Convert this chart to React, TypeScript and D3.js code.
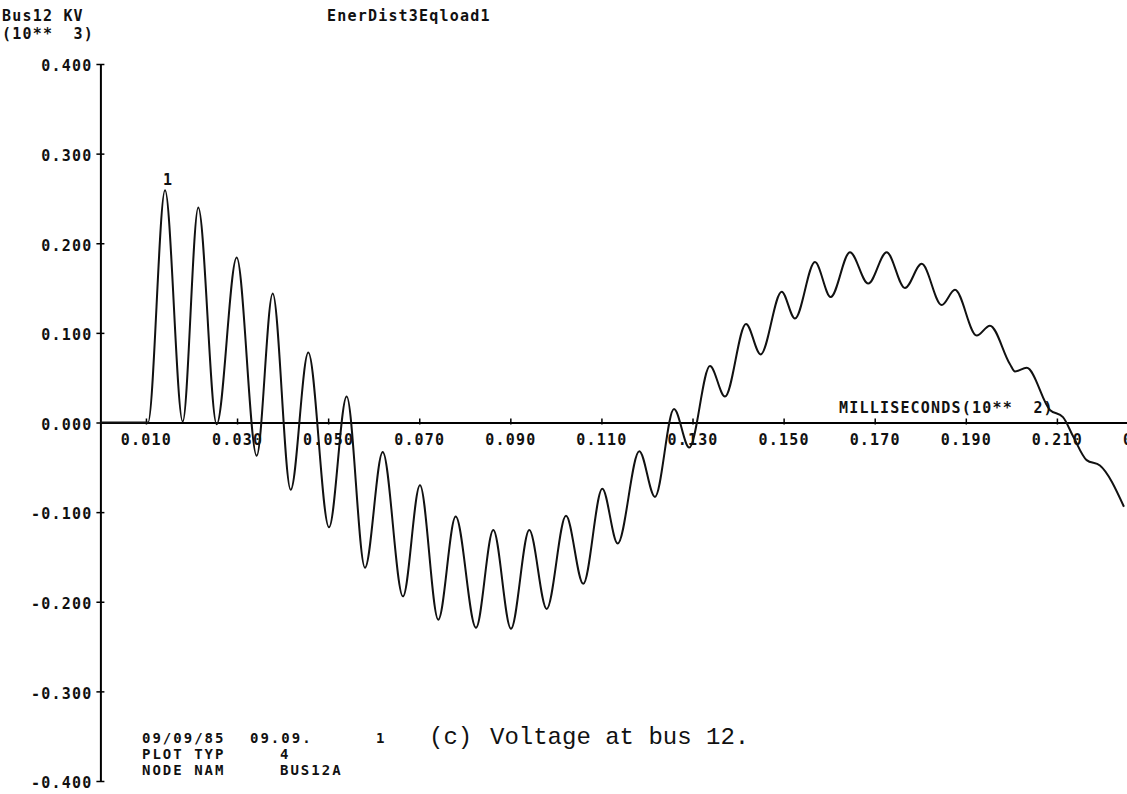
import React, { useEffect, useRef } from "react";
import * as d3 from "d3";

// time in milliseconds (x 10**2), voltage in kV (x 10**3)
const timeValues = [
  0, 0.01045, 0.01419, 0.01807, 0.02149, 0.02553, 0.02992, 0.03431, 0.03783,
  0.04178, 0.04564, 0.05019, 0.05407, 0.05809, 0.06198, 0.06643, 0.07016,
  0.07418, 0.078, 0.08246, 0.08626, 0.09014, 0.09416, 0.09798, 0.10222,
  0.10601, 0.11019, 0.11357, 0.11831, 0.12176, 0.12593, 0.12929, 0.13383,
  0.13713, 0.14174, 0.14496, 0.14957, 0.15249, 0.15688, 0.16033, 0.16457,
  0.16858, 0.17262, 0.17664, 0.18031, 0.1847, 0.18762, 0.19238, 0.1953,
  0.1997, 0.20079, 0.20336, 0.20847, 0.21133, 0.21352, 0.21653, 0.21945,
  0.22472,
];
const voltageValues = [
  0, 0, 0.259, 0.001, 0.24, -0.002, 0.184, -0.037, 0.144, -0.075, 0.078,
  -0.117, 0.029, -0.162, -0.033, -0.194, -0.07, -0.22, -0.105, -0.229, -0.12,
  -0.23, -0.12, -0.208, -0.104, -0.18, -0.074, -0.135, -0.032, -0.083, 0.015,
  -0.028, 0.063, 0.029, 0.11, 0.076, 0.146, 0.116, 0.179, 0.14, 0.19, 0.155,
  0.19, 0.15, 0.177, 0.131, 0.148, 0.097, 0.108, 0.065, 0.057, 0.061, 0.014,
  0.006, -0.015, -0.042, -0.048, -0.094,
];

const xTickValues = [
  0.01, 0.03, 0.05, 0.07, 0.09, 0.11, 0.13, 0.15, 0.17, 0.19, 0.21, 0.23,
];
const yTickValues = [0.4, 0.3, 0.2, 0.1, 0, -0.1, -0.2, -0.3, -0.4];

const plotFont = "'DejaVu Sans Mono', monospace";
const typeFont = "'Liberation Mono', 'Courier New', monospace";

const App = () => {
  const ref: any = useRef();
  const width = 1127;
  const height = 794;

  useEffect(() => {
    document.body.style.margin = "0";
    const svg = d3.select(ref.current);
    svg.selectAll("*").remove();

    const xScale = d3.scaleLinear().domain([0, 0.23]).range([100.4, 1148]);
    const yScale = d3.scaleLinear().domain([-0.4, 0.4]).range([781, 64]);

    const fmt = (d: any) => (+d).toFixed(3);

    // Y axis
    const yAxis = d3
      .axisLeft(yScale)
      .tickValues(yTickValues)
      .tickSizeInner(4)
      .tickSizeOuter(0)
      .tickPadding(4)
      .tickFormat(fmt);

    const yG = svg
      .append("g")
      .attr("transform", `translate(${xScale(0)},0)`)
      .call(yAxis)
      .attr("font-family", plotFont)
      .attr("font-size", 15)
      .attr("font-weight", "bold");
    yG.select(".domain").attr("stroke-width", 2);
    yG.selectAll(".tick line")
      .attr("x1", -4)
      .attr("x2", 4)
      .attr("stroke-width", 1.5);
    yG.selectAll(".tick text")
      .attr("dy", "0.45em")
      .attr("letter-spacing", 1.2)
      .attr("fill", "#111");

    // X axis across the zero line
    const xAxis = d3
      .axisBottom(xScale)
      .tickValues(xTickValues)
      .tickSizeInner(4)
      .tickSizeOuter(0)
      .tickFormat(fmt);

    const xG = svg
      .append("g")
      .attr("transform", `translate(0,${yScale(0)})`)
      .call(xAxis)
      .attr("font-family", plotFont)
      .attr("font-size", 15)
      .attr("font-weight", "bold");
    xG.select(".domain").attr("stroke-width", 2);
    xG.selectAll(".tick line")
      .attr("y1", -4)
      .attr("y2", 2)
      .attr("stroke-width", 1.5);
    xG.selectAll(".tick text")
      .attr("y", 22)
      .attr("dy", 0)
      .attr("letter-spacing", 1.2)
      .attr("fill", "#111");

    // the waveform
    const points = timeValues.map((t, i) => [t, voltageValues[i]]);
    const line = d3
      .line()
      .x((d: any) => xScale(d[0]))
      .y((d: any) => yScale(d[1]))
      .curve(d3.curveMonotoneX);

    svg
      .append("path")
      .datum(points)
      .attr("d", line as any)
      .attr("fill", "none")
      .attr("stroke", "#111")
      .attr("stroke-width", 2);

    // plot texts
    const label = (
      txt: string,
      x: number,
      y: number,
      size = 15,
      spacing = 1.2,
      font = plotFont,
      weight = "bold"
    ) =>
      svg
        .append("text")
        .attr("x", x)
        .attr("y", y)
        .attr("font-family", font)
        .attr("font-size", size)
        .attr("font-weight", weight)
        .attr("letter-spacing", spacing)
        .attr("fill", "#111")
        .style("white-space", "pre")
        .text(txt);

    label("Bus12 KV", 2, 21);
    label("(10**  3)", 2, 39);
    label("EnerDist3Eqload1", 327, 21);
    label("MILLISECONDS(10**  2)", 839, 413);
    label("1", xScale(0.01419) - 2, 185);

    // footer block
    label("09/09/85", 142, 743, 14, 2);
    label("09.09.", 250, 743, 14, 2);
    label("1", 376, 743, 14, 2);
    label("(c)", 429, 744, 24, 0, typeFont, "normal");
    label("Voltage at bus 12.", 490, 744, 24, 0, typeFont, "normal");
    label("PLOT TYP", 142, 759, 14, 2);
    label("4", 280, 759, 14, 2);
    label("NODE NAM", 142, 775, 14, 2);
    label("BUS12A", 280, 775, 14, 2);
  }, []);

  return (
    <svg
      ref={ref}
      width={width}
      height={height}
      style={{ display: "block", background: "#fff" }}
    ></svg>
  );
};

export default App;
